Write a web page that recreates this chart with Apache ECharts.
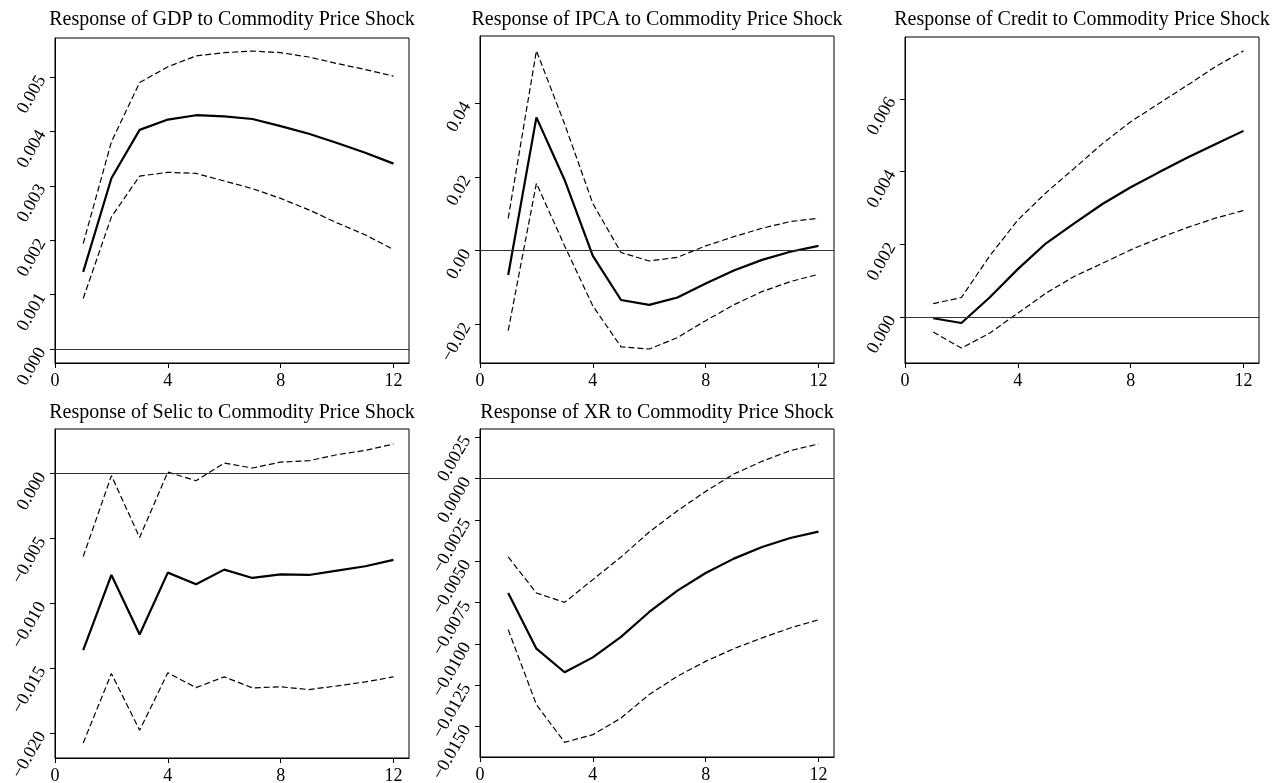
<!DOCTYPE html>
<html>
<head>
<meta charset="utf-8">
<script src="https://cdn.jsdelivr.net/npm/echarts@6/dist/echarts.min.js"></script>
<style>html,body{margin:0;padding:0;background:#fff}#c{width:1288px;height:783px}</style>
</head>
<body>
<div id="c"></div>
<script>
const periods = [1,2,3,4,5,6,7,8,9,10,11,12];
const xTicks = [0,4,8,12];

const gdpMid = [0.00142,0.00314,0.00403,0.00422,0.00430,0.00428,0.00423,0.00410,0.00396,0.00379,0.00361,0.00341];
const gdpUp  = [0.00194,0.00381,0.00490,0.00519,0.00539,0.00545,0.00548,0.00545,0.00537,0.00525,0.00514,0.00502];
const gdpLo  = [0.00093,0.00243,0.00318,0.00325,0.00323,0.00309,0.00295,0.00277,0.00256,0.00232,0.00210,0.00183];
const gdpTicks = [0,0.001,0.002,0.003,0.004,0.005];

const ipcaMid = [-0.0066,0.0362,0.0192,-0.0014,-0.0134,-0.0147,-0.0127,-0.0089,-0.0054,-0.0025,-0.0003,0.0013];
const ipcaUp  = [0.0088,0.0543,0.0344,0.0128,-0.0005,-0.0028,-0.0018,0.0013,0.0038,0.0061,0.0079,0.0088];
const ipcaLo  = [-0.0217,0.0183,0.0013,-0.0150,-0.0261,-0.0267,-0.0236,-0.0190,-0.0147,-0.0111,-0.0084,-0.0064];
const ipcaTicks = [-0.02,0,0.02,0.04];

const creditMid = [-0.00003,-0.00016,0.00054,0.00132,0.00203,0.00258,0.00311,0.00357,0.00398,0.00438,0.00475,0.00512];
const creditUp  = [0.00037,0.00054,0.00168,0.00267,0.00342,0.00409,0.00477,0.00537,0.00587,0.00637,0.00688,0.00732];
const creditLo  = [-0.00041,-0.00085,-0.00044,0.00011,0.00066,0.00112,0.00148,0.00185,0.00217,0.00246,0.00272,0.00293];
const creditTicks = [0,0.002,0.004,0.006];

const selicMid = [-0.01361,-0.00781,-0.01240,-0.00763,-0.00853,-0.00740,-0.00804,-0.00776,-0.00781,-0.00747,-0.00714,-0.00665];
const selicUp  = [-0.00639,-0.00015,-0.00492,0.00013,-0.00054,0.00082,0.00044,0.00090,0.00100,0.00147,0.00180,0.00229];
const selicLo  = [-0.02077,-0.01541,-0.01979,-0.01536,-0.01650,-0.01567,-0.01652,-0.01644,-0.01665,-0.01637,-0.01606,-0.01567];
const selicTicks = [-0.02,-0.015,-0.01,-0.005,0];

const xrMid = [-0.00692,-0.01029,-0.01172,-0.01082,-0.00958,-0.00807,-0.00678,-0.00571,-0.00484,-0.00414,-0.00359,-0.00321];
const xrUp  = [-0.00474,-0.00692,-0.00749,-0.00611,-0.00474,-0.00323,-0.00194,-0.00077,0.00028,0.00105,0.00170,0.00210];
const xrLo  = [-0.00914,-0.01368,-0.01596,-0.01550,-0.01449,-0.01307,-0.01196,-0.01106,-0.01029,-0.00964,-0.00904,-0.00854];
const xrTicks = [-0.015,-0.0125,-0.01,-0.0075,-0.005,-0.0025,0,0.0025];

const titles = [
  'Response of GDP to Commodity Price Shock',
  'Response of IPCA to Commodity Price Shock',
  'Response of Credit to Commodity Price Shock',
  'Response of Selic to Commodity Price Shock',
  'Response of XR to Commodity Price Shock'
];

const panels = [
  {mid: gdpMid, up: gdpUp, lo: gdpLo, ticks: gdpTicks, dec: 3, min: -0.000257, max: 0.00572, rect: [55, 38, 354, 325], tTop: 10},
  {mid: ipcaMid, up: ipcaUp, lo: ipcaLo, ticks: ipcaTicks, dec: 2, min: -0.0305, max: 0.0583, rect: [480, 36, 354, 327], tTop: 10},
  {mid: creditMid, up: creditUp, lo: creditLo, ticks: creditTicks, dec: 3, min: -0.00126, max: 0.0077, rect: [905, 37, 354, 326], tTop: 10},
  {mid: selicMid, up: selicUp, lo: selicLo, ticks: selicTicks, dec: 3, min: -0.02193, max: 0.00345, rect: [55, 429, 354, 329], tTop: 403},
  {mid: xrMid, up: xrUp, lo: xrLo, ticks: xrTicks, dec: 4, min: -0.01685, max: 0.003007, rect: [480, 429, 354, 328], tTop: 403}
];

const FONT = 'Liberation Serif';
const grid = [], xAxis = [], yAxis = [], series = [], title = [];

function pair(arr) { return periods.map((p, i) => [p, arr[i]]); }

panels.forEach((p, k) => {
  const [l, t, w, h] = p.rect;
  grid.push({left: l, top: t, width: w, height: h, show: true, borderColor: '#000', borderWidth: 1,
    backgroundColor: 'transparent', outerBoundsMode: 'none', containLabel: false});
  title.push({text: titles[k], left: l + w / 2, top: p.tTop, textAlign: 'center', padding: 0,
    textStyle: {fontFamily: FONT, fontSize: 20, fontWeight: 'normal', color: '#000'}});
  xAxis.push({type: 'value', gridIndex: k, min: 0, max: 12.55,
    axisLine: {show: true, onZero: false, lineStyle: {color: '#000', width: 1}},
    axisTick: {show: true, length: 5, inside: false, customValues: xTicks, lineStyle: {color: '#000', width: 1}},
    axisLabel: {customValues: xTicks, fontFamily: FONT, fontSize: 18, color: '#000', margin: 9,
      formatter: v => String(v)},
    splitLine: {show: false}});
  yAxis.push({type: 'value', gridIndex: k, min: p.min, max: p.max,
    axisLine: {show: true, onZero: false, lineStyle: {color: '#000', width: 1}},
    axisTick: {show: true, length: 5, inside: false, customValues: p.ticks, lineStyle: {color: '#000', width: 1}},
    axisLabel: {customValues: p.ticks, rotate: 60, fontFamily: FONT, fontSize: 18, color: '#000', margin: 13,
      formatter: v => { let s = Number(v).toFixed(p.dec); if (Math.abs(v) < 1e-12) s = (0).toFixed(p.dec); return s.replace('-', '\u2212'); }},
    splitLine: {show: false}});
  series.push({type: 'line', xAxisIndex: k, yAxisIndex: k, data: pair(p.mid), symbol: 'none',
    lineStyle: {color: '#000', width: 2.2}, silent: true, z: 3,
    markLine: {silent: true, symbol: 'none', label: {show: false},
      lineStyle: {color: '#333', width: 1, type: 'solid'}, data: [{yAxis: 0}]}});
  series.push({type: 'line', xAxisIndex: k, yAxisIndex: k, data: pair(p.up), symbol: 'none',
    lineStyle: {color: '#000', width: 1.2, type: [6, 3]}, silent: true});
  series.push({type: 'line', xAxisIndex: k, yAxisIndex: k, data: pair(p.lo), symbol: 'none',
    lineStyle: {color: '#000', width: 1.2, type: [6, 3]}, silent: true});
});

const chart = echarts.init(document.getElementById('c'), null, {renderer: 'canvas'});
chart.setOption({backgroundColor: '#fff', animation: false, title, grid, xAxis, yAxis, series});
</script>
</body>
</html>
